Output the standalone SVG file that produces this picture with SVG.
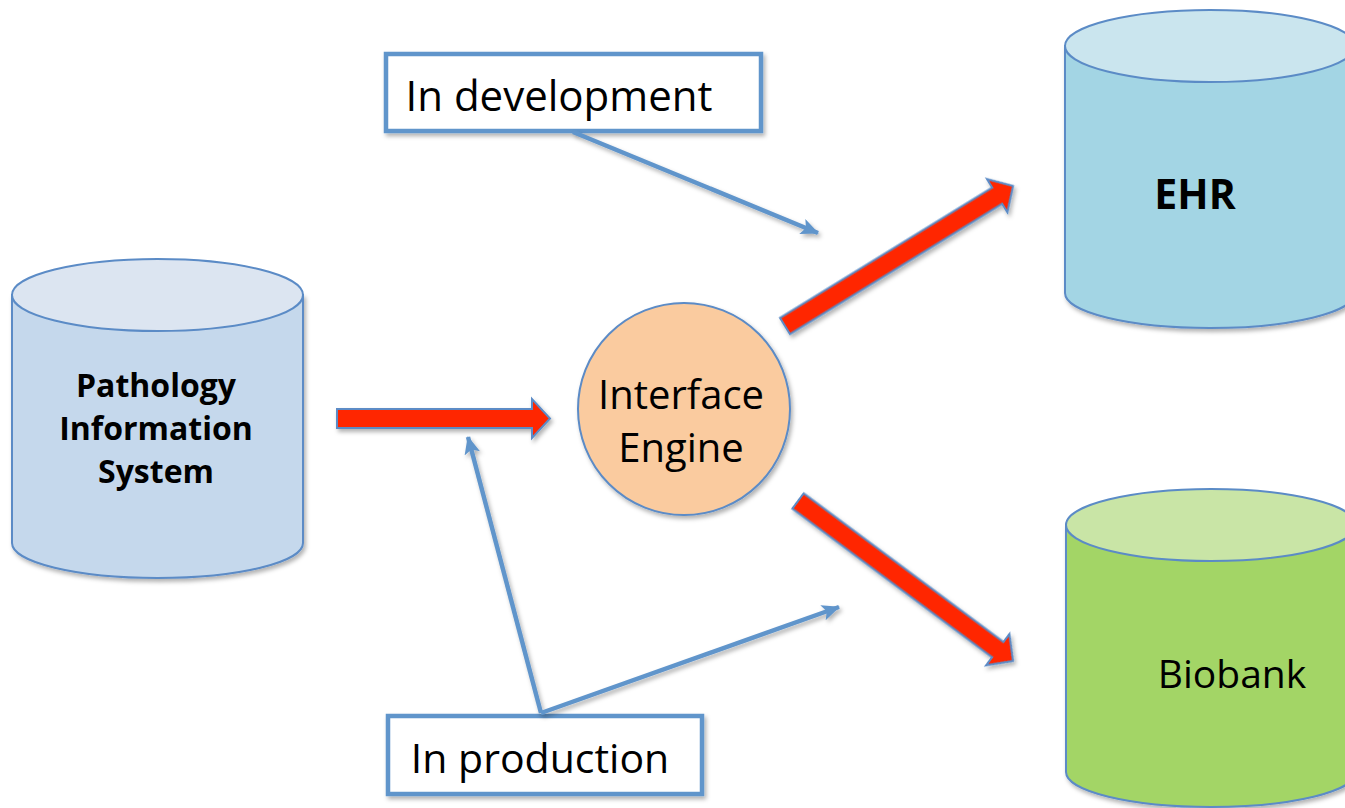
<svg xmlns="http://www.w3.org/2000/svg" width="1345" height="808" viewBox="0 0 1345 808">
  <defs>
    <filter id="shadow" x="-10%" y="-10%" width="130%" height="130%">
      <feDropShadow dx="2" dy="3" stdDeviation="2" flood-color="#000" flood-opacity="0.3"/>
    </filter>
    <marker id="tip" viewBox="0 0 18 16" refX="17" refY="8" markerWidth="18" markerHeight="16" markerUnits="userSpaceOnUse" orient="auto">
      <path d="M0,0 L18,8 L0,16 L4,8 Z" fill="#6195CB"/>
    </marker>
    <style>
      .cyl-side { stroke: #5B8BC6; stroke-width: 2; }
      .cyl-top { stroke: #5B8BC6; stroke-width: 2; }
      .label { font-family: "Open Sans", "Liberation Sans", sans-serif; fill: #000; text-anchor: middle; }
      .bold { font-weight: bold; }
      .callout { fill: #fff; stroke: #6195CB; stroke-width: 4.5; }
      .flow { fill: #FF2600; stroke: #5B8BC6; stroke-width: 2; stroke-linejoin: miter; }
      .link { stroke: #6195CB; stroke-width: 4.5; fill: none; marker-end: url(#tip); }
    </style>
  </defs>

  <rect width="1345" height="808" fill="#fff"/>

  <!-- Source database -->
  <g id="pathology">
    <path class="cyl-side" filter="url(#shadow)" fill="#C5D8EC" d="M12,295 V543 A145.5,35 0 0 0 303,543 V295 Z"/>
    <ellipse class="cyl-top" cx="157.5" cy="295" rx="145.5" ry="36" fill="#DCE5F1"/>
    <text class="label bold" font-size="32" x="156" y="397">Pathology</text>
    <text class="label bold" font-size="32" x="156" y="440">Information</text>
    <text class="label bold" font-size="32" x="156" y="483">System</text>
  </g>

  <!-- Central interface engine -->
  <g id="engine">
    <circle cx="684" cy="409" r="106" fill="#FACB9F" stroke="#5B8BC6" stroke-width="2" filter="url(#shadow)"/>
    <text class="label" font-size="40" x="681" y="409">Interface</text>
    <text class="label" font-size="40" x="681" y="462">Engine</text>
  </g>

  <!-- Target: EHR -->
  <g id="ehr">
    <path class="cyl-side" filter="url(#shadow)" fill="#A3D5E4" d="M1065,46 V293 A145,35 0 0 0 1355,293 V46 Z"/>
    <ellipse class="cyl-top" cx="1210" cy="46" rx="145" ry="36" fill="#CAE5EE"/>
    <text class="label bold" font-size="41" x="1195" y="209">EHR</text>
  </g>

  <!-- Target: Biobank -->
  <g id="biobank">
    <path class="cyl-side" filter="url(#shadow)" fill="#A3D566" d="M1066,525 V772 A145,35 0 0 0 1356,772 V525 Z"/>
    <ellipse class="cyl-top" cx="1211" cy="525" rx="145" ry="36" fill="#C9E5A6"/>
    <text class="label" font-size="39" x="1232" y="688">Biobank</text>
  </g>

  <!-- Status callouts -->
  <g id="in-development">
    <rect class="callout" filter="url(#shadow)" x="386" y="54" width="375" height="77"/>
    <text class="label" font-size="42" x="559" y="111">In development</text>
  </g>

  <g id="in-production">
    <rect class="callout" filter="url(#shadow)" x="388" y="716" width="314" height="78"/>
    <text class="label" font-size="41" x="540" y="773">In production</text>
  </g>

  <!-- Connectors -->
  <g id="connectors">
    <!-- data flows -->
    <g filter="url(#shadow)">
      <polygon class="flow" transform="translate(337,418.5)" points="0,-9.5 195,-9.5 195,-19.5 213,0 195,19.5 195,9.5 0,9.5"/>
      <polygon class="flow" transform="translate(785,326) rotate(-31.55)" points="0,-9.5 249,-9.5 249,-19.5 267.6,0 249,19.5 249,9.5 0,9.5"/>
      <polygon class="flow" transform="translate(798,501) rotate(36.65)" points="0,-9.5 249,-9.5 249,-19.5 268,0 249,19.5 249,9.5 0,9.5"/>
    </g>
    <!-- status pointers -->
    <g filter="url(#shadow)">
      <line class="link" x1="573" y1="132" x2="818" y2="233"/>
      <line class="link" x1="541" y1="713" x2="468" y2="437"/>
      <line class="link" x1="541" y1="713" x2="839" y2="607"/>
    </g>
  </g>
</svg>
